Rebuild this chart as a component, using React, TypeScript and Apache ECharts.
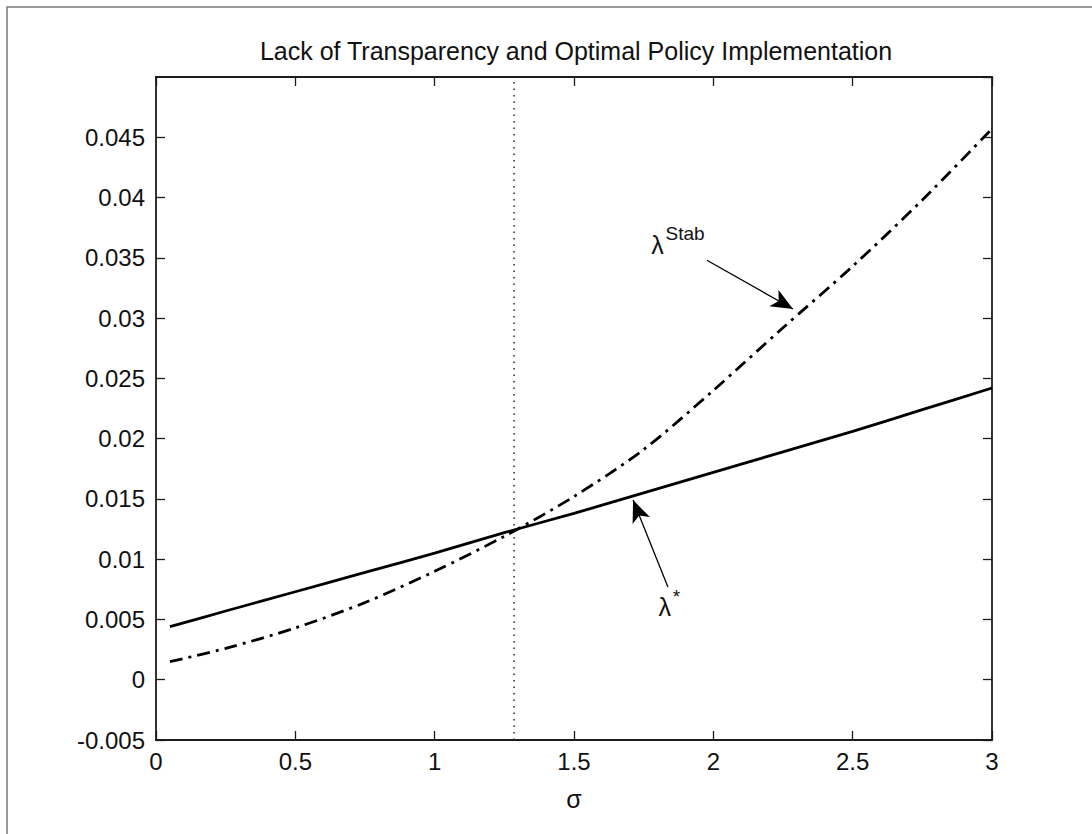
import React, { useEffect, useRef } from "react";
import * as echarts from "echarts";

// ---- data ----
const SIGMA = [0.05, 0.25, 0.5, 0.75, 1.0, 1.25, 1.5, 1.75, 2.0, 2.25, 2.5, 2.75, 3.0];
const LAMBDA_STAR = [0.0044, 0.0057, 0.0073, 0.0089, 0.0105, 0.0122, 0.0138, 0.0155, 0.0172, 0.0189, 0.0206, 0.0224, 0.0242];
const LAMBDA_STAB = [0.0015, 0.0026, 0.0043, 0.0064, 0.009, 0.0119, 0.0152, 0.0191, 0.024, 0.0292, 0.0343, 0.0398, 0.0457];
const SIGMA_CUT = 1.285;
const X_MIN = 0, X_MAX = 3, X_STEP = 0.5;
const Y_MIN = -0.005, Y_MAX = 0.05, Y_STEP = 0.005;
const TITLE = "Lack of Transparency and Optimal Policy Implementation";
const X_NAME = "σ";
// annotation arrows: [tailX, tailY, tipX, tipY]
const ARROW_STAB = [1.977, 0.0348, 2.286, 0.03075];
const ARROW_STAR = [1.837, 0.0077, 1.712, 0.0149];
// annotation label anchors
const LABEL_STAB = [1.8, 0.0361];
const LABEL_STAR = [1.826, 0.006];

const FONT = "'Liberation Sans', Arial, sans-serif";
const AXIS_COLOR = "#1c1c1c";

const fmt = (v: number) => String(parseFloat(v.toFixed(4)));

export default function App() {
  const ref = useRef<HTMLDivElement>(null);
  useEffect(() => {
    document.body.style.margin = "0";
    const chart = echarts.init(ref.current!, null, { renderer: "svg" });
    const axisLine = { show: true, onZero: false, lineStyle: { color: AXIS_COLOR, width: 1.8 } };
    const tick = { show: true, inside: true, length: 9, lineStyle: { color: AXIS_COLOR, width: 1.3 } };
    const label = { fontFamily: FONT, fontSize: 24, color: "#111" };
    chart.setOption({
      animation: false,
      backgroundColor: "#fff",
      title: {
        text: TITLE,
        left: 571,
        top: 33,
        textAlign: "center",
        textStyle: { fontFamily: FONT, fontSize: 25, fontWeight: "normal", color: "#111" },
      },
      grid: { left: 156, top: 77, right: 100, bottom: 94, containLabel: false },
      xAxis: [
        {
          type: "value", min: X_MIN, max: X_MAX, interval: X_STEP, position: "bottom",
          axisLine, axisTick: tick, splitLine: { show: false },
          axisLabel: { ...label, margin: 9, formatter: fmt },
          name: X_NAME, nameLocation: "middle", nameGap: 46,
          nameTextStyle: { fontFamily: FONT, fontSize: 25, color: "#111" },
        },
        {
          type: "value", min: X_MIN, max: X_MAX, interval: X_STEP, position: "top",
          axisLine, axisTick: tick, splitLine: { show: false }, axisLabel: { show: false },
        },
      ],
      yAxis: [
        {
          type: "value", min: Y_MIN, max: Y_MAX, interval: Y_STEP, position: "left",
          axisLine, axisTick: tick, splitLine: { show: false },
          axisLabel: { ...label, margin: 11, formatter: fmt, showMaxLabel: false },
        },
        {
          type: "value", min: Y_MIN, max: Y_MAX, interval: Y_STEP, position: "right",
          axisLine, axisTick: tick, splitLine: { show: false }, axisLabel: { show: false },
        },
      ],
      series: [
        {
          name: "cut", type: "line", showSymbol: false, silent: true,
          data: [[SIGMA_CUT, Y_MIN], [SIGMA_CUT, Y_MAX]],
          lineStyle: { color: "#333", width: 1.6, type: [1.5, 5] },
        },
        {
          name: "λ*", type: "line", showSymbol: false, smooth: 0.3,
          data: SIGMA.map((x, i) => [x, LAMBDA_STAR[i]]),
          lineStyle: { color: "#000", width: 2.8 },
        },
        {
          name: "λStab", type: "line", showSymbol: false, smooth: 0.3,
          data: SIGMA.map((x, i) => [x, LAMBDA_STAB[i]]),
          lineStyle: { color: "#000", width: 2.8, type: [13, 6, 3, 6] },
          markLine: {
            silent: true,
            symbol: ["none", "arrow"],
            symbolSize: [14, 22],
            label: { show: false },
            lineStyle: { color: "#000", width: 1.3, type: "solid" },
            data: [
              [{ coord: [ARROW_STAB[0], ARROW_STAB[1]] }, { coord: [ARROW_STAB[2], ARROW_STAB[3]] }],
              [{ coord: [ARROW_STAR[0], ARROW_STAR[1]] }, { coord: [ARROW_STAR[2], ARROW_STAR[3]] }],
            ],
          },
        },
      ],
    });
    const pStab = chart.convertToPixel({ gridIndex: 0 }, LABEL_STAB) as number[];
    const pStar = chart.convertToPixel({ gridIndex: 0 }, LABEL_STAR) as number[];
    chart.setOption({
      graphic: [
        {
          type: "rect", silent: true,
          shape: { x: 7, y: 7, width: 1300, height: 1000 },
          style: { fill: "none", stroke: "#7a7a7a", lineWidth: 1.5 },
        },
        {
          type: "text", x: pStab[0], y: pStab[1],
          style: { text: "λ", font: `25px ${FONT}`, fill: "#111", textAlign: "center", textVerticalAlign: "middle" },
        },
        {
          type: "text", x: pStab[0] + 8, y: pStab[1] - 11,
          style: { text: "Stab", font: `19px ${FONT}`, fill: "#111", textAlign: "left", textVerticalAlign: "middle" },
        },
        {
          type: "text", x: pStar[0], y: pStar[1],
          style: { text: "λ", font: `25px ${FONT}`, fill: "#111", textAlign: "center", textVerticalAlign: "middle" },
        },
        {
          type: "text", x: pStar[0] + 8, y: pStar[1] - 11,
          style: { text: "*", font: `19px ${FONT}`, fill: "#111", textAlign: "left", textVerticalAlign: "middle" },
        },
      ],
    });
    return () => chart.dispose();
  }, []);
  return <div ref={ref} style={{ width: 1092, height: 834 }} />;
}
